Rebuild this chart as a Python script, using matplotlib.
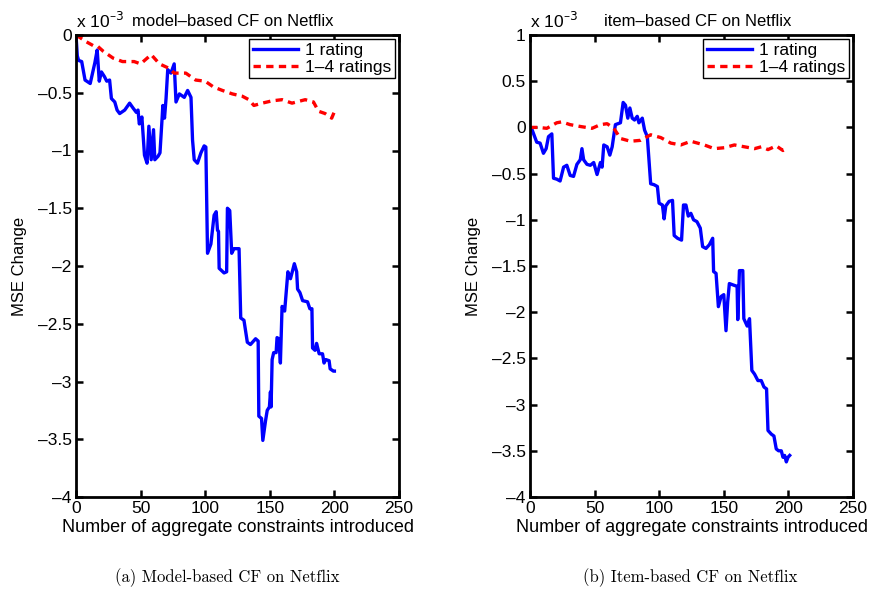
import numpy as np
import matplotlib
matplotlib.use("Agg")
import matplotlib.pyplot as plt

plt.rcParams['font.family'] = ['Liberation Sans', 'DejaVu Sans']

# MSE change (x 1e-3) vs number of aggregate constraints, model-based CF
mb_one_x = [0, 1, 2, 4.4, 7, 11, 14.6, 16.4, 18, 19.7, 22, 23.8, 26, 27.4, 30, 31.8, 33.8,
            37.7, 41.5, 44, 46.7, 48, 49, 51, 53, 55, 56.4, 58.2, 60, 61, 63.5, 65, 66.7,
            67.2, 68.5, 69.7, 71, 73.5, 76, 77.4, 80, 83.8, 86.4, 89, 90.2, 91.5, 94, 96.7,
            99.2, 100.5, 101.8, 104.4, 106.9, 108.5, 109.5, 110.3, 110.8, 114.6, 116.6,
            117.2, 119, 120.5, 122.3, 126.2, 127.5, 130, 132.6, 135, 139, 141, 141.5, 143.6,
            144.6, 146.7, 148, 149.7, 150.5, 151, 151.8, 153, 154.9, 155.6, 157, 158.2,
            159.5, 161.5, 164, 166, 167.4, 169, 170.8, 171.5, 173.3, 175.4, 179.2, 181,
            182.6, 183.1, 185, 186.2, 188.2, 190.8, 192, 193.3, 195.9, 196.7, 199.2, 200]
mb_one_y = [0, -0.18, -0.22, -0.23, -0.39, -0.42, -0.24, -0.13, -0.40, -0.32, -0.36, -0.40,
            -0.39, -0.55, -0.58, -0.65, -0.68, -0.65, -0.59, -0.63, -0.67, -0.65, -0.77,
            -0.71, -1.04, -1.11, -0.79, -1.08, -0.82, -1.08, -1.05, -1.02, -0.71, -0.61,
            -0.72, -0.55, -0.30, -0.33, -0.25, -0.58, -0.51, -0.54, -0.48, -0.54, -0.91,
            -1.08, -1.11, -1.02, -0.96, -0.97, -1.89, -1.81, -1.56, -1.53, -1.69, -1.70,
            -2.02, -2.06, -2.05, -1.50, -1.52, -1.89, -1.85, -1.85, -2.45, -2.47, -2.66,
            -2.68, -2.63, -2.65, -3.30, -3.32, -3.51, -3.34, -3.25, -3.22, -3.09, -3.22,
            -2.81, -2.75, -2.75, -2.62, -2.63, -2.84, -2.35, -2.39, -2.05, -2.11, -2.05,
            -1.98, -2.05, -2.20, -2.23, -2.30, -2.31, -2.37, -2.37, -2.71, -2.73, -2.67,
            -2.76, -2.76, -2.84, -2.81, -2.82, -2.89, -2.91, -2.91]
mb_four_x = [0, 8.2, 14.6, 17, 21, 28.7, 36, 45, 50, 58.2, 64.6, 72.3, 76, 85, 92.6, 100,
             106.4, 113.3, 121, 128.7, 133.8, 137.7, 144.1, 151.8, 159.5, 167.2, 177.4,
             183.8, 187.7, 192.8, 197.9, 200.5]
mb_four_y = [0, -0.06, -0.10, -0.10, -0.14, -0.20, -0.23, -0.23, -0.25, -0.17, -0.25, -0.29,
             -0.33, -0.33, -0.39, -0.40, -0.45, -0.48, -0.51, -0.53, -0.56, -0.61, -0.59,
             -0.57, -0.56, -0.59, -0.56, -0.58, -0.66, -0.68, -0.72, -0.65]

# item-based CF
ib_one_x = [0, 1.2, 5.2, 7.8, 10.4, 12.5, 14.3, 16.9, 18.2, 20.7, 23.3, 26, 28.5, 31.1, 33.7,
            36.3, 38.9, 40.2, 41.5, 44.1, 46.7, 49.3, 51.9, 54.5, 55.8, 57.1, 59.7, 61.8,
            63.6, 66.1, 70, 72.1, 73.9, 75.7, 77.3, 79.1, 80.9, 83, 84.3, 86.9, 88.7, 90.8,
            93.4, 96, 98.6, 99.9, 102.5, 103.8, 105.1, 107.7, 110.3, 111.6, 114.2, 117.3,
            118.8, 120.7, 122.5, 124.5, 126.6, 129.2, 131.8, 133.6, 136.2, 138.8, 141.4,
            142.1, 144, 145.8, 147.9, 150, 151.7, 153, 154.3, 158.2, 160.3, 160.8, 162.1,
            164.7, 165.5, 168.1, 169.9, 171.7, 173.8, 176.4, 179, 181.1, 183.1, 184.2, 186.8,
            188.8, 190.6, 192.4, 194.5, 195.8, 197.1, 198.4, 199.7, 201]
ib_one_y = [0, -0.01, -0.16, -0.17, -0.28, -0.23, -0.10, -0.07, -0.55, -0.56, -0.58, -0.43,
            -0.41, -0.52, -0.53, -0.40, -0.35, -0.23, -0.35, -0.40, -0.41, -0.38, -0.51,
            -0.38, -0.43, -0.19, -0.21, -0.30, -0.21, 0.03, 0.05, 0.27, 0.24, 0.10, 0.21,
            0.10, 0.08, 0.12, 0.05, 0.10, -0.03, -0.10, -0.61, -0.62, -0.64, -0.82, -0.84,
            -0.99, -0.85, -0.80, -0.79, -1.17, -1.20, -1.22, -0.84, -0.84, -0.96, -0.93,
            -1.00, -1.02, -1.09, -1.29, -1.31, -1.27, -1.20, -1.56, -1.58, -1.94, -1.83,
            -1.81, -2.20, -1.89, -1.69, -1.71, -1.72, -2.08, -1.55, -1.55, -2.07, -2.15,
            -2.07, -2.63, -2.67, -2.74, -2.74, -2.81, -2.83, -3.28, -3.32, -3.34, -3.48,
            -3.50, -3.50, -3.57, -3.55, -3.62, -3.57, -3.55]
ib_four_x = [0, 6.5, 13, 20.7, 24.6, 31, 38.9, 48, 54.5, 59.7, 64.9, 70, 77.8, 85.6, 93.4,
             101.2, 109, 116.7, 124.5, 134.9, 142.6, 150.4, 158.2, 166, 173.8, 179, 184.2,
             190.6, 195.8, 200]
ib_four_y = [0, 0, -0.01, 0.05, 0.06, 0.03, 0.01, -0.01, 0.03, 0.04, -0.01, -0.12, -0.15,
             -0.14, -0.08, -0.11, -0.17, -0.19, -0.15, -0.19, -0.23, -0.22, -0.19, -0.21,
             -0.23, -0.21, -0.24, -0.20, -0.25, -0.22]

legend_labels = ['1 rating', '1\u20134 ratings']
titles = ['model\u2013based CF on Netflix', 'item\u2013based CF on Netflix']
title_x = [0.485, 0.52]
captions = ['(a) Model-based CF on Netflix', '(b) Item-based CF on Netflix']
caption_x = [227, 690]
ylims = [(-4, 0), (-4, 1)]
yticks = [np.arange(-4, 0.01, 0.5), np.arange(-4, 1.01, 0.5)]

W, H = 870, 594
fig = plt.figure(figsize=(W / 100, H / 100), dpi=100)
panels = [(76, (mb_one_x, mb_one_y), (mb_four_x, mb_four_y)),
          (530, (ib_one_x, ib_one_y), (ib_four_x, ib_four_y))]

for i, (left, one, four) in enumerate(panels):
    ax = fig.add_axes([left / W, 1 - 497 / H, 323 / W, 462 / H])
    ax.plot(one[0], one[1], color='#0000ff', lw=2.4, label=legend_labels[0])
    ax.plot(four[0], four[1], color='#ff0000', lw=2.4, ls=(0, (2.2, 1.6)),
            label=legend_labels[1])
    ax.set_xlim(0, 250)
    ax.set_ylim(*ylims[i])
    ax.set_xticks(np.arange(0, 251, 50))
    ax.set_yticks(yticks[i])
    ax.set_yticklabels([('%g' % v).replace('-', '\u2013') for v in yticks[i]])
    ax.tick_params(direction='in', top=True, right=True, labelsize=12.5, length=5,
                   width=1.8, pad=3)
    for sp in ax.spines.values():
        sp.set_linewidth(2.0)
    ax.set_xlabel('Number of aggregate constraints introduced', fontsize=13, labelpad=2)
    ax.set_ylabel('MSE Change', fontsize=12, labelpad=8)
    ax.text(0.0, 1.008, 'x 10$^{\u2013 3}$', transform=ax.transAxes, fontsize=12.5,
            ha='left', va='bottom')
    ax.text(title_x[i], 1.012, titles[i], transform=ax.transAxes, fontsize=12,
            ha='center', va='bottom')
    leg = ax.legend(loc='upper right', fontsize=12.5, fancybox=False, framealpha=1,
                    edgecolor='black', handlelength=2.6, borderaxespad=0.25,
                    borderpad=0.2, labelspacing=0.1, handletextpad=0.4)
    leg.get_frame().set_linewidth(1.0)
    fig.text(caption_x[i] / W, 1 - 578 / H, captions[i], fontsize=12,
             family=['cmr10', 'DejaVu Serif'], ha='center', va='center')

fig.savefig('out.png', dpi=100)
